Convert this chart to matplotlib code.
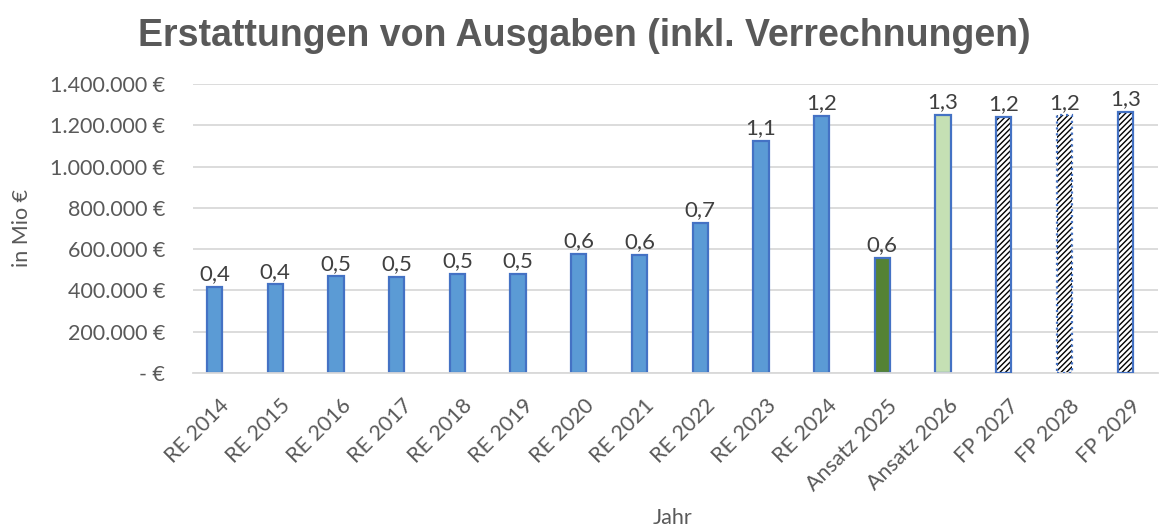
import matplotlib.pyplot as plt
import matplotlib.transforms as mtransforms
from matplotlib.ticker import FuncFormatter

jahre = ['RE 2014', 'RE 2015', 'RE 2016', 'RE 2017', 'RE 2018', 'RE 2019',
         'RE 2020', 'RE 2021', 'RE 2022', 'RE 2023', 'RE 2024',
         'Ansatz 2025', 'Ansatz 2026', 'FP 2027', 'FP 2028', 'FP 2029']

werte = [416000, 429000, 468000, 465000, 481000, 479000,
         576000, 571000, 726000, 1124000, 1244000,
         558000, 1251000, 1241000, 1248000, 1265000]

# Farbe je Balken: RE blau, Ansatz gruen, FP schraffiert
fuellung = ['#5B9BD5'] * 11 + ['#548235', '#C5E0B4'] + ['white'] * 3
schraffur = [None] * 13 + ['//////'] * 3
rand_stil = ['-'] * 14 + [':', '-']

plt.rcParams['font.family'] = ['Lato', 'DejaVu Sans']
plt.rcParams['hatch.linewidth'] = 1.0

fig = plt.figure(figsize=(11.61, 5.28), dpi=100)
ax = fig.add_axes([193 / 1161, 1 - 373 / 528, (1158 - 193) / 1161, (373 - 84) / 528])

x = list(range(len(jahre)))
for i in x:
    if schraffur[i]:
        ax.bar(i, werte[i], width=0.25, color=fuellung[i], hatch=schraffur[i],
               edgecolor='black', lw=0, zorder=2)
        ax.bar(i, werte[i], width=0.25, fill=False, edgecolor='#4472C4',
               lw=1.6, ls=rand_stil[i], zorder=3)
    else:
        ax.bar(i, werte[i], width=0.25, color=fuellung[i],
               edgecolor='#4472C4', lw=1.6, zorder=2)
    ax.annotate(f'{werte[i] / 1e6:.1f}'.replace('.', ','), (i, werte[i]),
                xytext=(0, 2), textcoords='offset points', ha='center',
                va='bottom', fontsize=16, color='#404040')

ax.set_ylim(0, 1400000)
ax.set_xlim(-0.354, 15.54)
ax.set_yticks(range(0, 1400001, 200000))


def euro(v, pos):
    if v == 0:
        return '- €'
    return f'{int(v):,} €'.replace(',', '.')


ax.yaxis.set_major_formatter(FuncFormatter(euro))
ax.grid(axis='y', color='#D9D9D9', lw=1.3, zorder=0)
ax.set_axisbelow(True)
for s in ['top', 'right', 'left']:
    ax.spines[s].set_visible(False)
ax.spines['bottom'].set_color('#D9D9D9')
ax.spines['bottom'].set_linewidth(1.3)
ax.tick_params(axis='both', length=0, colors='#595959', labelsize=15.5)
ax.tick_params(axis='y', pad=20)

ax.set_xticks(x)
ax.set_xticklabels(jahre, rotation=45, ha='right', va='center',
                   rotation_mode='anchor')
versatz = mtransforms.ScaledTranslation(12 / 100, -25 / 100, fig.dpi_scale_trans)
for lab in ax.get_xticklabels():
    lab.set_transform(lab.get_transform() + versatz)

fig.text(22 / 1161, 1 - 228 / 528, 'in Mio €', rotation=90, ha='center',
         va='center', fontsize=15.5, color='#595959')
fig.text(673 / 1161, 1 - 518 / 528, 'Jahr', ha='center', va='center',
         fontsize=15.5, color='#595959')
fig.text(584 / 1161, 1 - 36 / 528, 'Erstattungen von Ausgaben (inkl. Verrechnungen)',
         ha='center', va='center', fontsize=27, fontweight='bold',
         color='#595959', family='Liberation Sans')

plt.savefig('out.png', dpi=100)
